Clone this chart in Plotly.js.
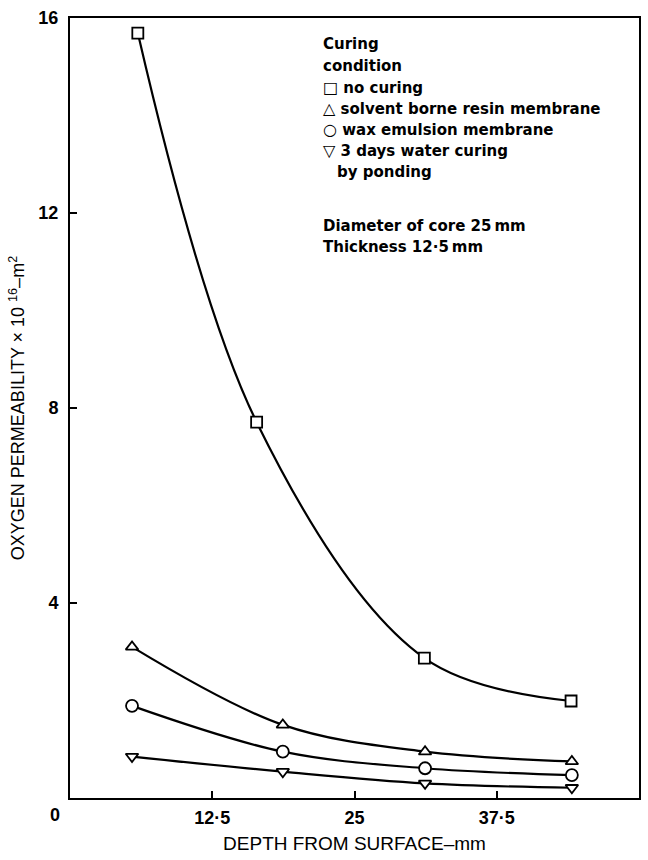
<!DOCTYPE html>
<html>
<head>
<meta charset="utf-8">
<script src="https://cdn.plot.ly/plotly-3.0.1.min.js"></script>
<style>html,body{margin:0;padding:0;background:#fff;}#chart{width:648px;height:860px;}</style>
</head>
<body>
<div id="chart"></div>
<script>
// ---- data ----
const depthNoCuring = [5.96, 16.4, 31.14, 44.03];
const permNoCuring = [15.69, 7.71, 2.87, 1.99];
const depthOthers = [5.45, 18.7, 31.2, 44.1];
const permSolventResin = [3.10, 1.50, 0.95, 0.75];
const permWaxEmulsion = [1.89, 0.95, 0.61, 0.47];
const permWaterPonding = [0.85, 0.54, 0.30, 0.21];
const xTickVals = [12.5, 25, 37.5, 50];
const xTickText = ["12·5", "25", "37·5", "50"];
const yTickVals = [4, 8, 12, 16];
const yTickText = ["4", "8", "12", "16"];
const legendHeader = ["Curing", "condition"];
const legendGlyphs = ["\u25A1", "\u25B3", "\u25CB", "\u25BD"];
const legendLabels = ["no curing", "solvent borne resin membrane", "wax emulsion membrane", "3 days water curing"];
const legendContinuation = "by ponding";
const noteLines = ["Diameter of core 25\u2009mm", "Thickness 12·5\u2009mm"];

// ---- layout constants ----
const W = 648, H = 860;
const M = {l: 70, r: 9, t: 18, b: 62};
const pw = W - M.l - M.r, ph = H - M.t - M.b;
const px = x => (x - M.l) / pw;
const py = y => (H - M.b - y) / ph;
const FONT = "Liberation Sans, Arial, sans-serif";
const LFONT = {family: "DejaVu Sans, sans-serif", size: 15, color: "#000", weight: "bold"};

function series(x, y, sym) {
  return {
    x: x, y: y, type: "scatter", mode: "lines+markers",
    line: {color: "#000", width: 2.2, shape: "spline", smoothing: 1},
    marker: {symbol: sym, size: sym === "circle" ? 12 : 11, color: "#fff",
             line: {color: "#000", width: 1.8}},
    showlegend: false, hoverinfo: "skip", cliponaxis: false
  };
}

const data = [
  series(depthNoCuring, permNoCuring, "square"),
  series(depthOthers, permSolventResin, "triangle-up"),
  series(depthOthers, permWaxEmulsion, "circle"),
  series(depthOthers, permWaterPonding, "triangle-down")
];

const annotations = [];
function addText(t, xpx, ypx, font) {
  annotations.push({xref: "paper", yref: "paper", x: px(xpx), y: py(ypx),
    xanchor: "left", yanchor: "middle", showarrow: false, text: t, font: font});
}
const legY = [44, 65.5, 87, 108, 129.5, 151, 172];
addText(legendHeader[0], 321, legY[0], LFONT);
addText(legendHeader[1], 321, legY[1], LFONT);
legendLabels.forEach((t, i) => {
  addText('<span style="font-weight:normal;font-size:16px">' + legendGlyphs[i] + '</span> ' + t,
          321, legY[i + 2], LFONT);
});
addText(legendContinuation, 335, legY[6], LFONT);
addText(noteLines[0], 321, 226, LFONT);
addText(noteLines[1], 321, 247, LFONT);
annotations.push({xref: "paper", yref: "paper", x: px(55), y: py(815),
  xanchor: "center", yanchor: "middle", showarrow: false, text: "0",
  font: {family: FONT, size: 18, color: "#000", weight: "bold"}});

const layout = {
  width: W, height: H,
  margin: M,
  paper_bgcolor: "#fff", plot_bgcolor: "#fff",
  showlegend: false,
  xaxis: {
    range: [0, 50], showgrid: false, zeroline: false,
    showline: true, mirror: true, linecolor: "#000", linewidth: 2,
    ticks: "inside", ticklen: 7, tickwidth: 2, tickcolor: "#000",
    tickvals: xTickVals, ticktext: xTickText,
    tickfont: {family: FONT, size: 18, color: "#000", weight: "bold"},
    ticklabelstandoff: 2,
    title: {text: "DEPTH FROM SURFACE\u2013mm", standoff: 10,
            font: {family: FONT, size: 19, color: "#000"}}
  },
  yaxis: {
    range: [0, 16], showgrid: false, zeroline: false,
    showline: true, mirror: true, linecolor: "#000", linewidth: 2,
    ticks: "inside", ticklen: 7, tickwidth: 2, tickcolor: "#000",
    tickvals: yTickVals, ticktext: yTickText,
    tickfont: {family: FONT, size: 18, color: "#000", weight: "bold"},
    ticklabelstandoff: 6,
    title: {text: "OXYGEN PERMEABILITY \u00D7 10 <sup>16</sup>\u2013m<sup>2</sup>", standoff: 9,
            font: {family: FONT, size: 18, color: "#000"}}
  },
  annotations: annotations
};

Plotly.newPlot("chart", data, layout, {staticPlot: true, displayModeBar: false});
</script>
</body>
</html>
